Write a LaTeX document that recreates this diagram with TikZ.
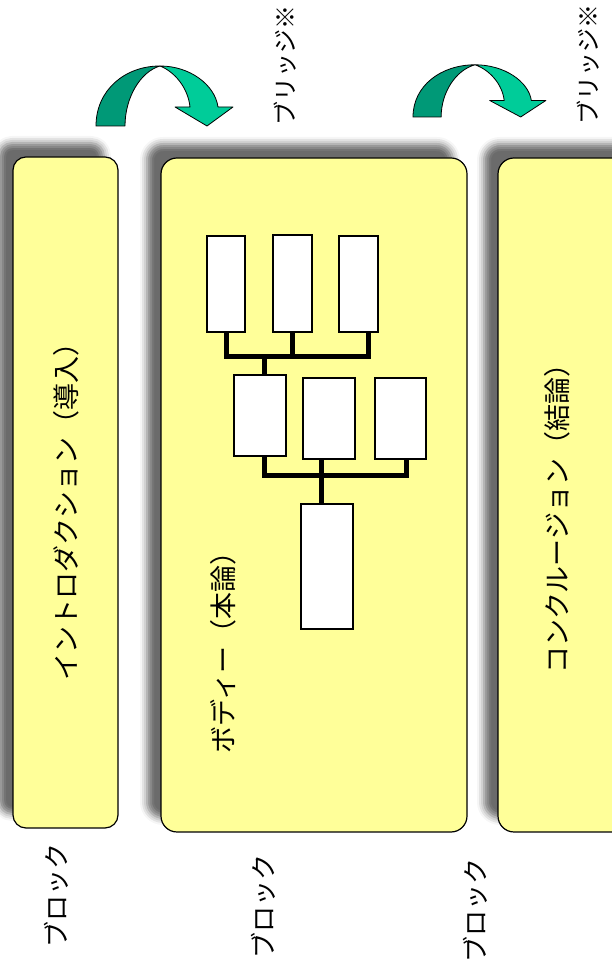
\documentclass[tikz,border=0pt]{standalone}
\usepackage{fontspec}
\newfontfamily\jp{Noto Sans CJK JP}
\usetikzlibrary{shadows.blur}
\definecolor{blockyellow}{HTML}{FFFF99}
\definecolor{arrowdark}{HTML}{009977}
\definecolor{arrowlight}{HTML}{00CC99}
\tikzset{
  block/.style={draw=black, line width=1.2pt, fill=blockyellow, rounded corners=15pt,
    blur shadow={shadow xshift=-14pt, shadow yshift=14pt, shadow blur radius=7pt, shadow opacity=58}},
  leaf/.style={draw=black, line width=1.5pt, fill=white, inner sep=0pt},
  conn/.style={draw=black, line width=5pt, line join=miter},
  lbl/.style={font=\jp\fontsize{26}{28}\selectfont, rotate=90, inner sep=0pt},
  bridgelbl/.style={font=\jp\fontsize{24}{26}\selectfont, rotate=90, inner sep=0pt},
  boxtxt/.style={font=\jp\fontsize{27}{30}\selectfont, rotate=90, inner sep=0pt},
  arrowpart/.style={draw=black, line width=0.8pt, line join=round},
  bridgearrow/.pic={
    \path[arrowpart, fill=arrowdark] (0,0) .. controls (0,36) and (29,60) .. (64,60)
      .. controls (44,54) and (29,28) .. (29,0) -- cycle;
    \path[arrowpart, fill=arrowlight] (64,60) .. controls (94,60) and (119,41) .. (122,19)
      -- (137,19) -- (111,0) -- (79,19) -- (94,19)
      .. controls (92,38) and (79,54) .. (64,60) -- cycle;
  }
}
\begin{document}
\begin{tikzpicture}[x=1pt,y=1pt]
\useasboundingbox (0,0) rectangle (611,973);

% blocks
\node[block, rounded corners=13pt, minimum width=105pt, minimum height=671pt] (intro) at (65.5,480.5) {};
\node[block, rounded corners=16pt, minimum width=306pt, minimum height=674pt] (body) at (314,478) {};
\node[block, rounded corners=16pt, minimum width=152pt, minimum height=674pt] (conc) at (574,478) {};

% block texts
\node[boxtxt] (introtxt) at (66,468) {イントロダクション（導入）};
\node[boxtxt] (bodytxt) at (223,327) {ボディー（本論）};
\node[boxtxt] (conctxt) at (557,461) {コンクルージョン（結論）};

% labels
\node[lbl] (blk1) at (56,77) {ブロック};
\node[lbl] (blk2) at (263,66) {ブロック};
\node[lbl] (blk3) at (475,62) {ブロック};
\node[bridgelbl] (br1) at (285,907) {ブリッジ※};
\node[bridgelbl] (br2) at (588,908) {ブリッジ※};

% tree
\node[leaf, minimum width=38pt, minimum height=96pt] (r1) at (226,689) {};
\node[leaf, minimum width=39pt, minimum height=97pt] (r2) at (292.5,689.5) {};
\node[leaf, minimum width=39pt, minimum height=96pt] (r3) at (358.5,689) {};
\node[leaf, minimum width=52pt, minimum height=81pt] (r4) at (260,557.5) {};
\node[leaf, minimum width=52pt, minimum height=81pt] (r5) at (329,554.5) {};
\node[leaf, minimum width=51pt, minimum height=81pt] (r6) at (400.5,554.5) {};
\node[leaf, minimum width=52pt, minimum height=125pt] (r7) at (327,406.5) {};

\coordinate (bus1) at (0,616);
\coordinate (bus2) at (0,497);
\coordinate (r3bot) at ([xshift=10pt]r3.south);
\coordinate (r4top) at ([xshift=4pt]r4.north);
\coordinate (r4bot) at ([xshift=4pt]r4.south);
\coordinate (r5bot) at ([xshift=-8pt]r5.south);
\coordinate (r6bot) at ([xshift=6pt]r6.south);
\coordinate (r7top) at ([xshift=-6pt]r7.north);

\draw[conn] (r1.south) -- (r1.south |- bus1) -- (r3bot |- bus1) -- (r3bot);
\draw[conn] (r2.south) -- (r2.south |- bus1);
\draw[conn] (r4top) -- (r4top |- bus1);
\draw[conn] (r4bot) -- (r4bot |- bus2) -- (r6bot |- bus2) -- (r6bot);
\draw[conn] (r5bot) -- (r7top);

% bridge arrows
\pic at (96,847) {bridgearrow};
\pic[xscale=0.97, yscale=0.87] at (413,856) {bridgearrow};
\end{tikzpicture}
\end{document}
